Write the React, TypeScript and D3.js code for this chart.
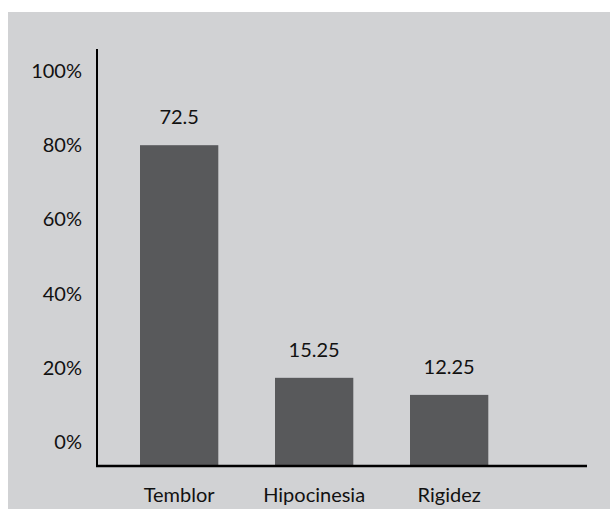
import React from "react";
import * as d3 from "d3";

const categories = ["Temblor", "Hipocinesia", "Rigidez"];
const barValues = [80, 17.3, 12.7];
const valueLabels = ["72.5", "15.25", "12.25"];
const yTicks = [0, 20, 40, 60, 80, 100];

const W = 610;
const H = 509;
const FONT = "Lato, 'Open Sans', sans-serif";

export default function App() {
  const y = d3.scaleLinear().domain([0, 100]).range([442, 71]);
  const baseline = y(-6.5);
  const x = d3
    .scaleBand<string>()
    .domain(categories)
    .range([111.65, 516.65])
    .paddingInner(0.42)
    .paddingOuter(0.21);
  const fmt = (v: number) => `${v}%`;

  return (
    <svg
      width={W}
      height={H}
      style={{ position: "absolute", left: 0, top: 0, display: "block" }}
      fontFamily={FONT}
    >
      <rect x={0} y={0} width={W} height={H} fill="#ffffff" />
      <rect x={8} y={12} width={W - 8} height={H - 12} fill="#d1d2d4" />
      {categories.map((c, i) => (
        <rect
          key={c}
          x={x(c)}
          y={y(barValues[i])}
          width={x.bandwidth()}
          height={baseline - y(barValues[i])}
          fill="#58595b"
        />
      ))}
      <line x1={97} x2={97} y1={49} y2={baseline + 1} stroke="#000" strokeWidth={2} />
      <line x1={96} x2={587} y1={baseline} y2={baseline} stroke="#000" strokeWidth={2.5} />
      {yTicks.map((t) => (
        <text
          key={t}
          x={82}
          y={y(t)}
          dy="0.35em"
          textAnchor="end"
          fontSize={20}
          fill="#111"
        >
          {fmt(t)}
        </text>
      ))}
      {categories.map((c, i) => (
        <text
          key={c + "v"}
          x={(x(c) as number) + x.bandwidth() / 2}
          y={y(barValues[i]) - 21}
          textAnchor="middle"
          fontSize={20}
          fill="#111"
        >
          {valueLabels[i]}
        </text>
      ))}
      {categories.map((c) => (
        <text
          key={c + "c"}
          x={(x(c) as number) + x.bandwidth() / 2}
          y={502}
          textAnchor="middle"
          fontSize={20}
          fill="#111"
        >
          {c}
        </text>
      ))}
    </svg>
  );
}
